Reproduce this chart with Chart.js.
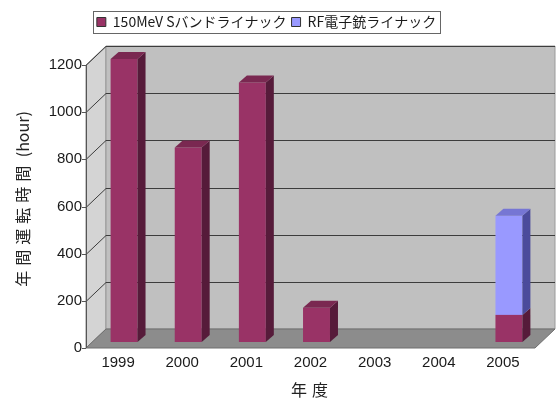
<!DOCTYPE html>
<html>
<head>
<meta charset="utf-8">
<script src="https://cdn.jsdelivr.net/npm/chart.js@4.4.0/dist/chart.umd.min.js"></script>
<style>
    body { margin: 0; background: #fff; }
</style>
</head>
<body>
<canvas id="graficaLinac" width="557" height="398"></canvas>
<script>

// Datos de operación anual (hour)
const anos = ["1999", "2000", "2001", "2002", "2003", "2004", "2005"];
const sBand = [1200, 825, 1100, 145, 0, 0, 115];
const rfGun = [0, 0, 0, 0, 0, 0, 420];
const ticksY = [0, 200, 400, 600, 800, 1000, 1200];

const nombres = ["150MeV Sバンドライナック", "RF電子銃ライナック"];

// Colores: frente, lado, tapa
const colFrente = ["#993366", "#9999ff"];
const colLado = ["#561b3a", "#4b4b9c"];
const colTapa = ["#7a2851", "#7676d4"];

// Profundidad de la caja 3D (pixeles)
const frenteABarra = [6, -6];
const frenteAFondo = [20, -19];
const fondoBarra = [8, -7];

let grafica = null;

function poligono(ctx, pts, relleno, borde){
    ctx.beginPath();
    ctx.moveTo(pts[0][0], pts[0][1]);
    for (let k = 1; k < pts.length; k++) {
        ctx.lineTo(pts[k][0], pts[k][1]);
    }
    ctx.closePath();
    ctx.fillStyle = relleno;
    ctx.fill();
    if (borde) {
        ctx.strokeStyle = borde;
        ctx.lineWidth = 1;
        ctx.stroke();
    }
}

const caja3d = {

    id: "caja3d",

    beforeInit(chart){
        // espacio fijo debajo de la leyenda
        const fitOriginal = chart.legend.fit;
        chart.legend.fit = function(){
            fitOriginal.call(this);
            this.height = 49;
        };
    },

    afterLayout(chart){
        chart.legend.right -= 8;
    },

    beforeDatasetsDraw(chart){

        const { ctx, chartArea: a, scales: { y } } = chart;

        const L = a.left - frenteABarra[0];
        const R = a.right - frenteABarra[0];
        const B = y.getPixelForValue(0) - frenteABarra[1];
        const T = y.getPixelForValue(1200) - frenteABarra[1];
        const [dx, dy] = frenteAFondo;

        ctx.save();

        // pared izquierda
        poligono(ctx, [[L, B], [L, T], [L + dx, T + dy], [L + dx, B + dy]], "#d4d4d4", "#8a8a8a");

        // pared de fondo
        poligono(ctx, [[L + dx, T + dy], [R + dx, T + dy], [R + dx, B + dy], [L + dx, B + dy]], "#c0c0c0", "#9a9a9a");

        // piso
        poligono(ctx, [[L, B], [R, B], [R + dx, B + dy], [L + dx, B + dy]], "#8c8c8c", "#6e6e6e");

        // líneas de la cuadrícula
        ctx.strokeStyle = "#3c3c3c";
        ctx.lineWidth = 1;
        ticksY.forEach(v => {
            if (v === 0) return;
            const yf = Math.round(y.getPixelForValue(v) - frenteABarra[1]) + 0.5;
            ctx.beginPath();
            ctx.moveTo(L, yf);
            ctx.lineTo(L + dx, yf + dy);
            ctx.lineTo(R + dx, yf + dy);
            ctx.stroke();
        });

        // eje vertical y marcas
        ctx.strokeStyle = "#555";
        ctx.beginPath();
        ctx.moveTo(L + 0.5, T);
        ctx.lineTo(L + 0.5, B);
        ticksY.forEach(v => {
            const yf = Math.round(y.getPixelForValue(v) - frenteABarra[1]) + 0.5;
            ctx.moveTo(L - 4, yf);
            ctx.lineTo(L, yf);
        });
        ctx.stroke();

        ctx.restore();
    },

    afterDatasetsDraw(chart){

        const ctx = chart.ctx;
        const [dx, dy] = fondoBarra;
        const sets = chart.data.datasets;

        ctx.save();

        sets.forEach((ds, di) => {
            const meta = chart.getDatasetMeta(di);
            meta.data.forEach((barra, i) => {
                if (!ds.data[i]) return;
                const { x, y, base, width } = barra.getProps(["x", "y", "base", "width"], true);
                const x0 = x - width / 2;
                const x1 = x + width / 2;

                // cara lateral
                poligono(ctx, [[x1, base], [x1, y], [x1 + dx, y + dy], [x1 + dx, base + dy]], colLado[di]);

                // tapa solo en el segmento superior
                const encima = sets.slice(di + 1).some(d => d.data[i] > 0);
                if (!encima) {
                    poligono(ctx, [[x0, y], [x1, y], [x1 + dx, y + dy], [x0 + dx, y + dy]], colTapa[di]);
                }
            });
        });

        ctx.restore();
    },

    afterDraw(chart){

        const ctx = chart.ctx;
        const cajas = chart.legend.legendHitBoxes;

        ctx.save();

        // marco de la leyenda
        if (cajas && cajas.length) {
            const izq = cajas[0].left - 4;
            const ult = cajas[cajas.length - 1];
            const der = ult.left + ult.width + 4;
            const arriba = cajas[0].top - 4;
            const alto = cajas[0].height + 8;
            ctx.strokeStyle = "#666";
            ctx.lineWidth = 1;
            ctx.strokeRect(Math.round(izq) + 0.5, Math.round(arriba) + 0.5, Math.round(der - izq), Math.round(alto));
        }

        // títulos de los ejes
        ctx.fillStyle = "#222";
        ctx.font = '16px "Noto Sans CJK JP"';
        ctx.textBaseline = "middle";

        // eje Y: kanji espaciados y unidad sin espaciar
        const parte1 = "年間運転時間";
        const parte2 = " (hour)";
        ctx.letterSpacing = "5px";
        const w1 = ctx.measureText(parte1).width;
        ctx.letterSpacing = "0px";
        const w2 = ctx.measureText(parte2).width;
        ctx.save();
        ctx.translate(23, 199);
        ctx.rotate(-Math.PI / 2);
        ctx.textAlign = "left";
        ctx.letterSpacing = "5px";
        ctx.fillText(parte1, -(w1 + w2) / 2, 0);
        ctx.letterSpacing = "0px";
        ctx.fillText(parte2, -(w1 + w2) / 2 + w1, 0);
        ctx.restore();

        // eje X
        ctx.textAlign = "center";
        ctx.letterSpacing = "5px";
        ctx.fillText("年度", 312, 390);

        ctx.restore();
    }
};

function generarGrafica(){

    const ctx = document.getElementById("graficaLinac");

    if (grafica) {
        grafica.destroy();
    }

    Chart.defaults.font.family = '"Liberation Sans", Arial, sans-serif';
    Chart.defaults.color = "#1a1a1a";

    grafica = new Chart(ctx, {

        type: "bar",

        data: {
            labels: anos,
            datasets: [
                {
                    label: nombres[0],
                    data: sBand,
                    backgroundColor: colFrente[0]
                },
                {
                    label: nombres[1],
                    data: rfGun,
                    backgroundColor: colFrente[1]
                }
            ]
        },

        options: {

            responsive: false,
            animation: false,

            layout: {
                padding: { top: 10, right: 16, bottom: 0, left: 0 }
            },

            datasets: {
                bar: {
                    categoryPercentage: 1,
                    barPercentage: 0.42,
                    borderWidth: 0
                }
            },

            plugins: {
                legend: {
                    position: "top",
                    labels: {
                        boxWidth: 9,
                        boxHeight: 9,
                        padding: 5,
                        color: "#1a1a1a",
                        font: { family: '"Noto Sans CJK JP"', size: 14 },
                        generateLabels(chart){
                            const items = Chart.defaults.plugins.legend.labels.generateLabels(chart);
                            items.forEach(it => {
                                it.lineWidth = 1;
                                it.strokeStyle = "#333";
                            });
                            return items;
                        }
                    }
                },
                tooltip: { enabled: false }
            },

            scales: {

                x: {
                    stacked: true,
                    grid: { display: false, drawTicks: false },
                    border: { display: false },
                    ticks: {
                        font: { size: 15 },
                        labelOffset: -6,
                        padding: 12,
                        maxRotation: 0
                    },
                    afterFit(s){ s.height = 56; }
                },

                y: {
                    stacked: true,
                    min: 0,
                    max: 1200,
                    grid: { display: false, drawTicks: false },
                    border: { display: false },
                    ticks: {
                        font: { size: 15 },
                        labelOffset: 6,
                        padding: 10,
                        callback: v => String(v)
                    },
                    afterBuildTicks(s){
                        s.ticks = ticksY.map(v => ({ value: v }));
                    },
                    afterFit(s){ s.width = 92; }
                }
            }
        },

        plugins: [caja3d]
    });
}

generarGrafica();

</script>
</body>
</html>
